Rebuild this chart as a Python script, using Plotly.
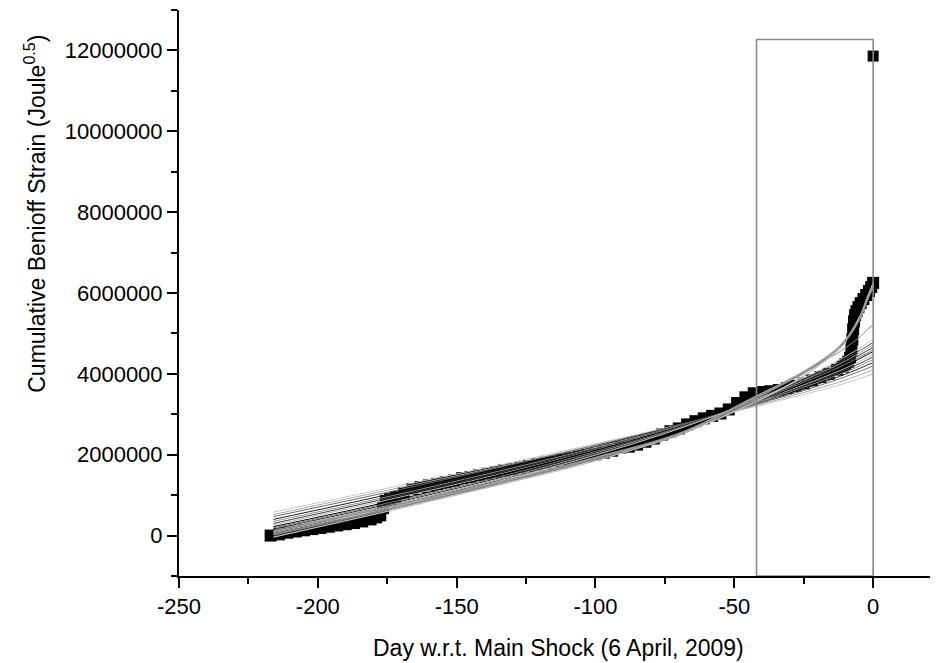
import plotly.graph_objects as go

# ---------------- data ----------------
# Cumulative Benioff strain, in millions of Joule^0.5, by day w.r.t. the main shock
DAYS = [-217, -214, -211, -208, -205, -202, -199, -196, -193, -190, -187, -184,
        -181, -179, -177.5, -176.5, -175.5, -174, -172, -169, -166, -163, -160,
        -157, -154, -151, -148, -145, -142, -139, -136, -133, -130, -127, -124,
        -121, -118, -115, -112, -109, -106, -103, -100, -97, -94, -91, -88, -85,
        -82, -79, -76, -73, -70, -67, -64, -61, -58, -55, -52, -49, -46, -43,
        -40, -37, -34, -31, -28, -25, -22, -19, -16, -13, -11, -10, -9, -8.3,
        -7.8, -7.5, -7.2, -6.9, -6.5, -6, -5.3, -4.5, -3.5, -2.5, -1.5, -0.7, 0]
STRAIN_M = [0.0, 0.03, 0.07, 0.1, 0.13, 0.16, 0.19, 0.22, 0.25, 0.28, 0.31, 0.35,
            0.4, 0.45, 0.5, 0.68, 0.86, 0.9, 0.95, 1.05, 1.15, 1.2, 1.24,
            1.28, 1.32, 1.36, 1.42, 1.45, 1.49, 1.53, 1.57, 1.61, 1.64, 1.68, 1.72,
            1.76, 1.8, 1.84, 1.88, 1.91, 1.95, 1.98, 2.01, 2.05, 2.1, 2.18, 2.2, 2.25,
            2.32, 2.4, 2.5, 2.58, 2.65, 2.75, 2.83, 2.9, 2.96, 3.02, 3.12, 3.28, 3.42, 3.52,
            3.55, 3.57, 3.6, 3.65, 3.7, 3.76, 3.84, 3.92, 4.0, 4.1, 4.18, 4.24, 4.3, 4.4,
            4.6, 4.85, 5.1, 5.3, 5.45, 5.55, 5.65, 5.75, 5.85, 5.95, 6.05, 6.15, 6.25]
MAIN_SHOCK_DAY = [0]
MAIN_SHOCK_M = [11.86]

# Power-law fit curves, sampled at these days (millions)
FIT_DAYS = [-216, -175, -135, -100, -70, -42, -25, -12, -5, -2, 0]
FIT_01 = [0.58, 1.17, 1.74, 2.27, 2.74, 3.20, 3.49, 3.73, 3.88, 3.95, 4.00]
FIT_02 = [0.52, 1.12, 1.70, 2.24, 2.73, 3.22, 3.54, 3.80, 3.97, 4.05, 4.10]
FIT_03 = [0.47, 1.07, 1.68, 2.23, 2.73, 3.25, 3.59, 3.88, 4.06, 4.14, 4.20]
FIT_04 = [0.40, 1.01, 1.63, 2.20, 2.73, 3.27, 3.63, 3.94, 4.13, 4.22, 4.28]
FIT_05 = [0.35, 0.96, 1.59, 2.17, 2.72, 3.28, 3.67, 3.99, 4.19, 4.29, 4.35]
FIT_06 = [0.30, 0.92, 1.55, 2.15, 2.71, 3.30, 3.70, 4.04, 4.25, 4.35, 4.42]
FIT_07 = [0.26, 0.88, 1.51, 2.12, 2.70, 3.31, 3.73, 4.08, 4.30, 4.41, 4.48]
FIT_08 = [0.22, 0.83, 1.49, 2.11, 2.69, 3.32, 3.76, 4.13, 4.37, 4.48, 4.55]
FIT_09 = [0.19, 0.80, 1.45, 2.08, 2.67, 3.33, 3.79, 4.17, 4.41, 4.52, 4.60]
FIT_10 = [0.16, 0.77, 1.42, 2.06, 2.67, 3.34, 3.82, 4.21, 4.46, 4.58, 4.66]
FIT_11 = [0.13, 0.74, 1.39, 2.04, 2.66, 3.35, 3.84, 4.25, 4.51, 4.64, 4.72]
FIT_12 = [0.10, 0.71, 1.36, 2.01, 2.65, 3.36, 3.87, 4.30, 4.57, 4.69, 4.78]
FIT_13 = [0.07, 0.67, 1.34, 1.99, 2.64, 3.37, 3.90, 4.35, 4.63, 4.76, 4.85]
FIT_14 = [0.04, 0.64, 1.27, 1.88, 2.48, 3.38, 4.05, 4.55, 4.90, 5.10, 5.22]
FIT_15 = [0.02, 0.64, 1.29, 1.90, 2.50, 3.42, 4.02, 4.65, 5.35, 5.90, 6.20]
FIT_16 = [-0.04, 0.60, 1.25, 1.85, 2.50, 3.32, 3.95, 4.65, 5.40, 5.90, 6.25]
FIT_17 = [0.10, 0.70, 1.32, 1.93, 2.52, 3.45, 4.05, 4.68, 5.35, 5.85, 6.15]
FITS = [FIT_01, FIT_02, FIT_03, FIT_04, FIT_05, FIT_06, FIT_07, FIT_08, FIT_09,
        FIT_10, FIT_11, FIT_12, FIT_13, FIT_14, FIT_15, FIT_16, FIT_17]
FIT_COLORS = ["#c8c8c8", "#a8a8a8", "#686868", "#202020", "#909090", "#404040",
              "#b8b8b8", "#000000", "#787878", "#303030", "#a0a0a0", "#505050",
              "#c0c0c0", "#8c8c8c", "#888888", "#bdbdbd", "#999999"]
FIT_WIDTHS = [1, 1, 1, 1, 1, 1, 1, 1, 1, 1, 1, 1, 1, 1, 1.8, 1.3, 1.8]

X_TICKS = [-250, -200, -150, -100, -50, 0]
X_LABELS = ["-250", "-200", "-150", "-100", "-50", "0"]
X_MINOR = [-225, -175, -125, -75, -25]
Y_TICKS = [0, 2000000, 4000000, 6000000, 8000000, 10000000, 12000000]
Y_MINOR = [-1000000, 1000000, 3000000, 5000000, 7000000, 9000000, 11000000, 13000000]

M = 1e6
fig = go.Figure()

fig.add_trace(go.Scatter(
    x=DAYS, y=[v * M for v in STRAIN_M], mode="markers",
    marker=dict(symbol="square", size=12, color="black", line=dict(width=0)),
    hoverinfo="skip"))
fig.add_trace(go.Scatter(
    x=MAIN_SHOCK_DAY, y=[v * M for v in MAIN_SHOCK_M], mode="markers",
    marker=dict(symbol="square", size=11, color="black", line=dict(width=0)),
    hoverinfo="skip"))

for vals, col, w in zip(FITS, FIT_COLORS, FIT_WIDTHS):
    fig.add_trace(go.Scatter(
        x=FIT_DAYS, y=[v * M for v in vals], mode="lines",
        line=dict(color=col, width=w, shape="spline", smoothing=1.0),
        hoverinfo="skip"))

# window box
fig.add_shape(type="rect", xref="x", yref="y", x0=-42, x1=0, y0=-1000000, y1=12270000,
              line=dict(color="#8a8a8a", width=1.6), fillcolor="rgba(0,0,0,0)", layer="above")

axis_common = dict(showline=True, linecolor="black", linewidth=2, ticks="outside",
                   ticklen=10, tickwidth=2, tickcolor="black", showgrid=False,
                   zeroline=False, tickfont=dict(size=22, color="black"))

# the page body has an 8px margin, so the figure is 8px smaller and margins shifted
fig.update_layout(
    width=930, height=655, autosize=False,
    margin=dict(l=171, r=1, t=2, b=87),
    plot_bgcolor="white", paper_bgcolor="white", showlegend=False,
    font=dict(family="Liberation Sans, Arial, sans-serif", color="black"),
    xaxis=dict(range=[-250, 23], tickmode="array", tickvals=X_TICKS, ticktext=X_LABELS,
               minor=dict(tickmode="array", tickvals=X_MINOR, ticks="outside", ticklen=6,
                          tickwidth=2, tickcolor="black", showgrid=False),
               **axis_common),
    yaxis=dict(range=[-1000000, 13000000], tickmode="array", tickvals=Y_TICKS,
               tickformat="d",
               minor=dict(tickmode="array", tickvals=Y_MINOR, ticks="outside", ticklen=6,
                          tickwidth=2, tickcolor="black", showgrid=False),
               **axis_common),
    annotations=[
        dict(text="Day w.r.t. Main Shock (6 April, 2009)", xref="paper", yref="paper",
             x=0.5, y=-0.127, xanchor="center", yanchor="middle", showarrow=False,
             font=dict(size=23, color="black")),
        dict(text="Cumulative Benioff Strain (Joule<sup>0.5</sup>)", xref="paper", yref="paper",
             x=-0.19, y=0.64, xanchor="center", yanchor="middle", textangle=-90,
             showarrow=False, font=dict(size=23, color="black")),
    ],
)

fig.write_html("out.html")
